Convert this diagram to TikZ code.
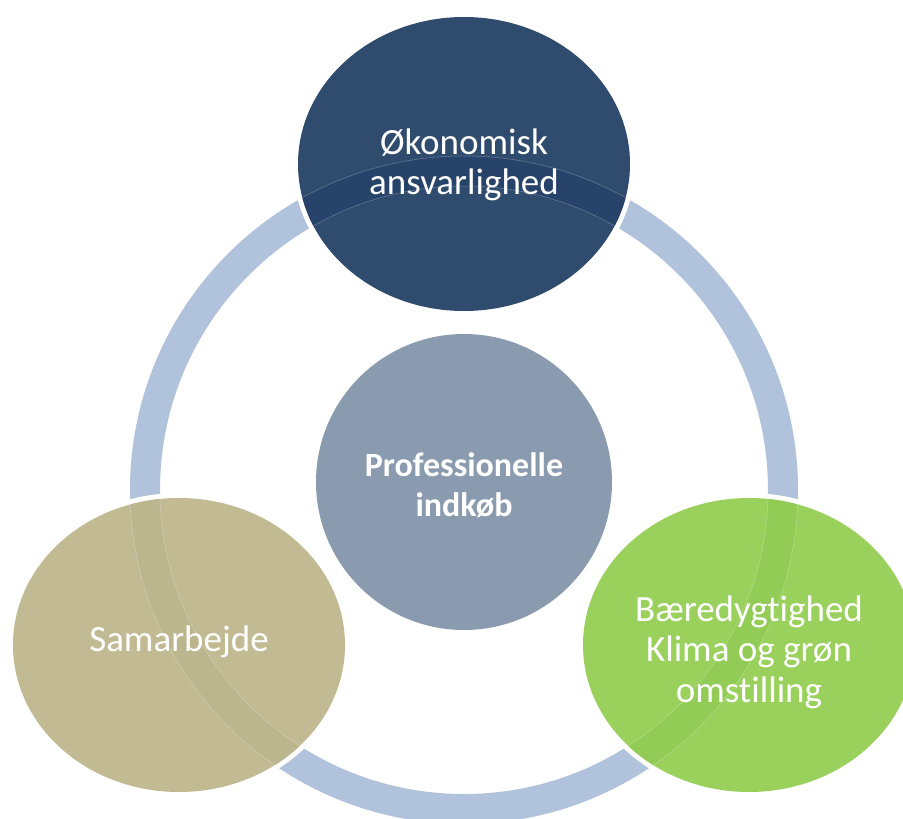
\documentclass[tikz,border=0pt]{standalone}
\usepackage{fontspec}
\setmainfont[Ligatures=CommonOff]{Carlito}
\definecolor{ringc}{HTML}{B1C2DC}
\definecolor{topc}{HTML}{2F4B6E}
\definecolor{topband}{HTML}{274369}
\definecolor{leftc}{HTML}{C2BA93}
\definecolor{leftband}{HTML}{BCB68F}
\definecolor{rightc}{HTML}{99D15C}
\definecolor{rightband}{HTML}{92CC57}
\definecolor{midc}{HTML}{8A9BAF}
\tikzset{
  lbl/.style={text=white, align=center, inner sep=0pt, font=\fontsize{37}{40.5}\selectfont},
  midlbl/.style={text=white, align=center, inner sep=0pt, font=\fontsize{34}{40.5}\selectfont\bfseries},
  ringline/.style={line width=30pt},
  bandedge/.style={draw=white, opacity=0.3, line width=0.5pt}
}
\begin{document}
\begin{tikzpicture}[x=1pt,y=-1pt]
\useasboundingbox (0,0) rectangle (903,819);
\coordinate (C) at (464,490);
\coordinate (T) at (464,164);
\coordinate (L) at (179,645);
\coordinate (R) at (749,645);
\coordinate (M) at (464,482);
% ring
\draw[ringc, ringline] (C) circle[radius=319pt];
% ellipses
\foreach \p/\fc/\bc in {T/topc/topband, L/leftc/leftband, R/rightc/rightband}{
  \fill[white] (\p) ellipse[x radius=171pt, y radius=152pt];
  \fill[\fc] (\p) ellipse[x radius=166pt, y radius=147pt];
  \begin{scope}
    \clip (\p) ellipse[x radius=166pt, y radius=147pt];
    \draw[\bc, ringline] (C) circle[radius=319pt];
    \draw[bandedge] (C) circle[radius=304pt];
    \draw[bandedge] (C) circle[radius=334pt];
  \end{scope}
}
% central circle
\fill[midc] (M) circle[radius=148pt];
% labels
\node[lbl] (tl) at (464,165) {Økonomisk\\ansvarlighed};
\node[lbl] (ll) at (179,642) {Samarbejde};
\node[lbl] (rl) at (749,652) {Bæredygtighed\\Klima og grøn\\omstilling};
\node[midlbl] (ml) at (464,485) {Professionelle\\indkøb};
\end{tikzpicture}
\end{document}
